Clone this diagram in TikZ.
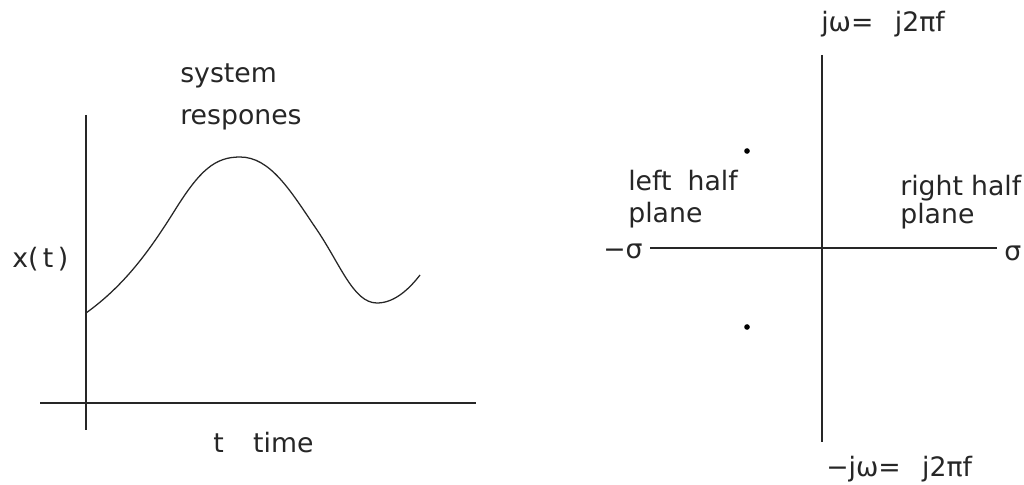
\documentclass[tikz,border=0pt]{standalone}
\usepackage{fontspec}
\setmainfont{DejaVu Sans}
\begin{document}
\begin{tikzpicture}[x=0.025cm,y=-0.025cm,
  axis/.style={line width=1.3pt,black!85},
  curve/.style={line width=0.9pt,black!85},
  lbl/.style={inner sep=0pt,anchor=base west,font=\fontsize{19}{23}\selectfont,text=black!85},
  pole/.style={circle,fill=black,inner sep=0pt,minimum size=4pt}]
\useasboundingbox (0,0) rectangle (1024,485);
% left plot
\coordinate (ltop) at (86,115);
\coordinate (lbot) at (86,430);
\coordinate (lleft) at (40,403);
\coordinate (lright) at (476,403);
\draw[axis] (ltop) -- (lbot);
\draw[axis] (lleft) -- (lright);
\draw[curve] (86,313) .. controls (125,285) and (150,250) .. (175,210)
  .. controls (200,170) and (215,157) .. (240,157)
  .. controls (270,157) and (290,190) .. (315,227)
  .. controls (340,263) and (353,303) .. (377,303)
  .. controls (395,303) and (410,288) .. (420,275);
\node[lbl] (xt) at (12,267) {x(\,t\,)};
\node[lbl] (sys) at (180,83) {system};
\node[lbl] (resp) at (180,125) {respones};
\node[lbl] (tt) at (213,452) {t\hspace{1.1em}time};
% right plot
\coordinate (rtop) at (822,55);
\coordinate (rbot) at (822,442);
\coordinate (rleft) at (650,248);
\coordinate (rright) at (997,248);
\draw[axis] (rtop) -- (rbot);
\draw[axis] (rleft) -- (rright);
\node[pole] (p1) at (747,151) {};
\node[pole] (p2) at (747,327) {};
\node[lbl] (msig) at (603,258) {−σ};
\node[lbl] (sig) at (1004,260) {σ};
\node[lbl] (lh) at (628,190) {left\hspace{0.6em}half};
\node[lbl] (lp) at (628,222) {plane};
\node[lbl] (rh) at (900,195) {right\hspace{0.3em}half};
\node[lbl] (rp) at (900,223) {plane};
\node[lbl] (jw) at (821,32) {jω=\hspace{0.8em}j2πf};
\node[lbl] (mjw) at (826,476) {−jω=\hspace{0.8em}j2πf};
\end{tikzpicture}
\end{document}
